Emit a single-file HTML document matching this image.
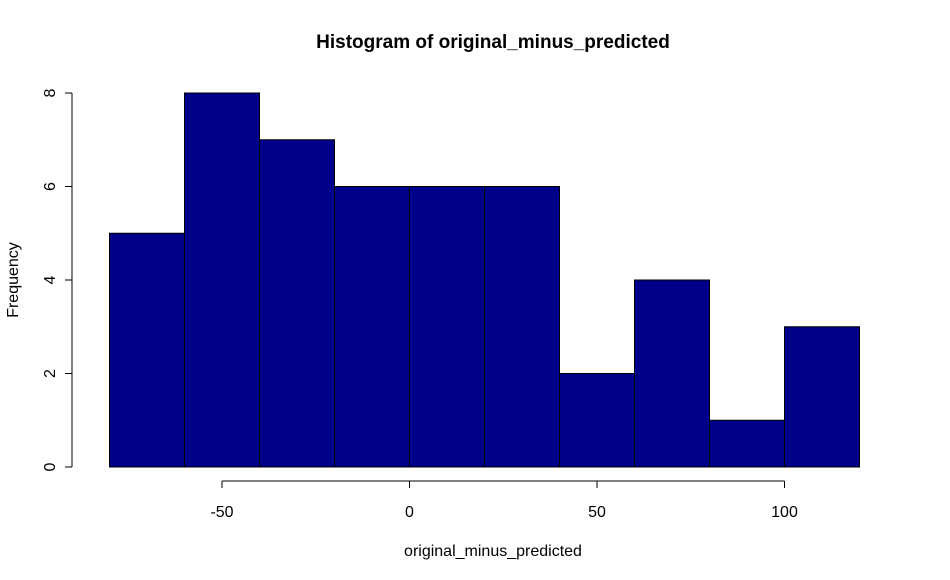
<!DOCTYPE html>
<html><head><meta charset="utf-8"><style>
body{margin:0;background:#fff;}
svg{display:block;font-family:"Liberation Sans",Arial,sans-serif;}
</style></head><body>
<svg id="chart" width="950" height="580">
<text x="493" y="48" text-anchor="middle" font-size="19" font-weight="bold">Histogram of original_minus_predicted</text>
<text x="493" y="556" text-anchor="middle" font-size="16">original_minus_predicted</text>
<text transform="translate(18,280) rotate(-90)" text-anchor="middle" font-size="16">Frequency</text>
<g id="bars"></g><g id="xaxis"></g><g id="yaxis"></g>
</svg>
<script>
const binEdges=[-80,-60,-40,-20,0,20,40,60,80,100,120];
const counts=[5,8,7,6,6,6,2,4,1,3];
const xTicks=[-50,0,50,100];
const yTicks=[0,2,4,6,8];
const NS="http://www.w3.org/2000/svg";
const xs=v=>409.5+v*3.75;
const ys=v=>467-v*46.75;
function mk(t,a,p){const e=document.createElementNS(NS,t);for(const k in a)e.setAttribute(k,a[k]);p.appendChild(e);return e;}
const bars=document.getElementById('bars');
counts.forEach((c,i)=>{
 const r=mk('rect',{x:xs(binEdges[i]),y:ys(c),width:xs(binEdges[i+1])-xs(binEdges[i]),height:ys(0)-ys(c),fill:'#00008B',stroke:'#000','stroke-width':1},bars);
 
 
});
const xa=document.getElementById('xaxis');
const xl=mk('line',{x1:xs(xTicks[0]),x2:xs(xTicks[xTicks.length-1]),y1:481,y2:481,stroke:'#000'},xa);


xTicks.forEach(v=>{
 mk('line',{x1:xs(v),x2:xs(v),y1:481,y2:488,stroke:'#000'},xa);
 const t=mk('text',{x:xs(v),y:517,'text-anchor':'middle','font-size':16},xa);t.textContent=v;
 
 
});
const ya=document.getElementById('yaxis');
const yl=mk('line',{x1:72,x2:72,y1:ys(yTicks[0]),y2:ys(yTicks[yTicks.length-1]),stroke:'#000'},ya);


yTicks.forEach(v=>{
 mk('line',{x1:65,x2:72,y1:ys(v),y2:ys(v),stroke:'#000'},ya);
 const t=mk('text',{transform:`translate(55,${ys(v)}) rotate(-90)`,'text-anchor':'middle','font-size':16},ya);t.textContent=v;
 
 
});
</script>
</body></html>
